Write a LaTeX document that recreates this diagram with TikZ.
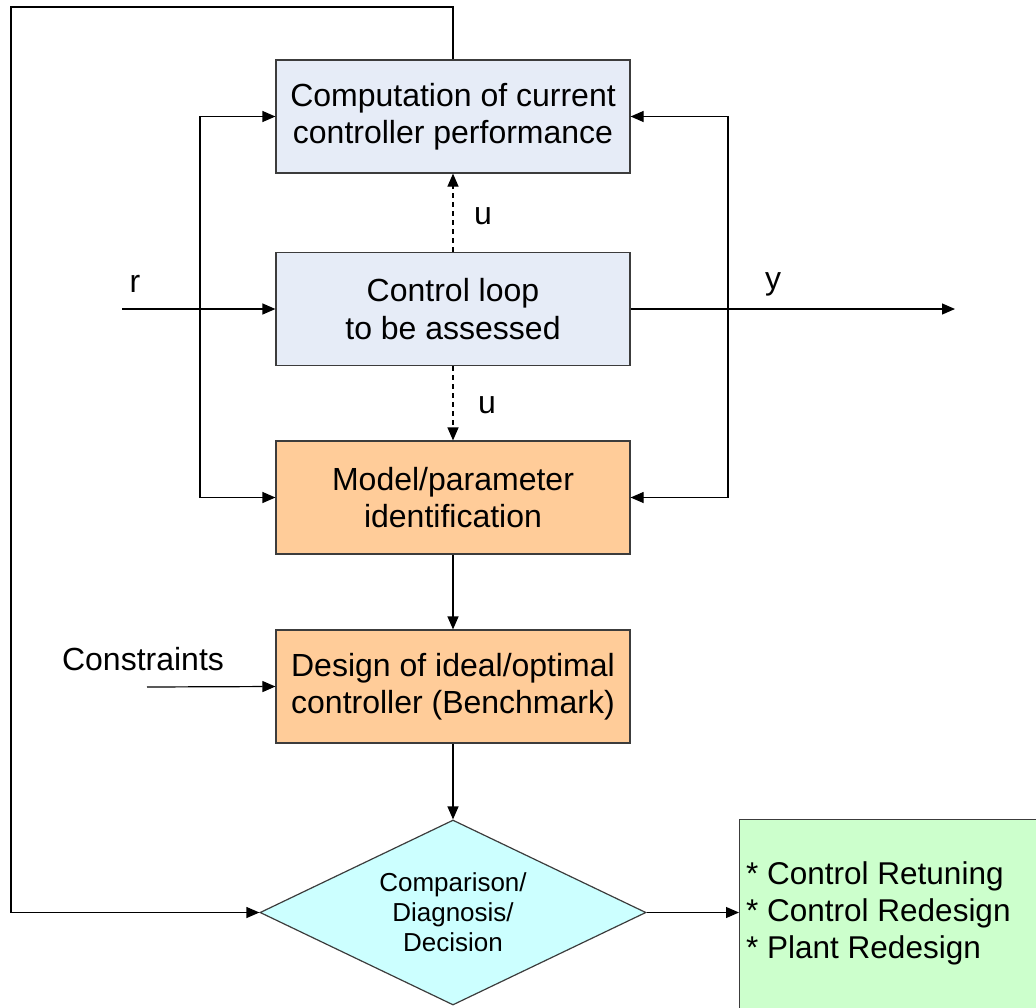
\documentclass[tikz,border=0pt]{standalone}
\usepackage{fontspec}
\setmainfont{Liberation Sans}
\usetikzlibrary{arrows.meta,shapes.geometric}
\definecolor{blueish}{HTML}{E6ECF7}
\definecolor{orangeish}{HTML}{FFCC99}
\definecolor{cyanish}{HTML}{CCFFFF}
\definecolor{greenish}{HTML}{CCFFCC}
\definecolor{edge}{HTML}{3C3C3C}
\begin{document}
\begin{tikzpicture}[x=1pt,y=-1pt,
  box/.style={draw=edge,line width=1.2pt,minimum width=354pt,minimum height=113pt,inner sep=0pt,align=center,font=\fontsize{32}{37.5}\selectfont},
  bluebox/.style={box,fill=blueish},
  orangebox/.style={box,fill=orangeish},
  decide/.style={diamond,draw=edge,line width=1.2pt,fill=cyanish,minimum width=386pt,minimum height=185pt,aspect=2.09,inner sep=0pt,align=center,font=\fontsize{26}{30}\selectfont},
  lbl/.style={font=\fontsize{32}{37}\selectfont,inner sep=0pt},
  arr/.style={line width=1.2pt,-{Triangle[length=13pt,width=11pt]}},
  dsh/.style={dash pattern=on 5pt off 4pt}
]
\useasboundingbox (0,0) rectangle (1036,1007);

\node[bluebox] (b1) at (453,116.5) {Computation of current\\controller performance};
\node[bluebox] (b2) at (453,309) {Control loop\\to be assessed};
\node[orangebox] (b3) at (453,497.5) {Model/parameter\\identification};
\node[orangebox] (b4) at (453,686.5) {Design of ideal/optimal\\controller (Benchmark)};
\node[decide] (dia) at (453,912.5) {Comparison/\\Diagnosis/\\Decision};
\node[draw=edge,line width=1.2pt,fill=greenish,anchor=north west,minimum width=360pt,minimum height=260pt] (act) at (739,819) {};
\node[lbl,anchor=west,align=left,font=\fontsize{31.5}{37}\selectfont] (acttext) at (746,913) {* Control Retuning\\* Control Redesign\\* Plant Redesign};

\node[lbl] (rl) at (135,284) {r};
\node[lbl] (yl) at (773,284) {y};
\node[lbl] (u1) at (483,216) {u};
\node[lbl] (u2) at (487,405) {u};
\node[lbl] (cl) at (143,659) {Constraints};

\coordinate (rin) at (122,309);
\coordinate (jr) at (200,309);
\coordinate (yout) at (955,309);
\coordinate (jy) at (728,309);
\coordinate (cin) at (147,687);
\coordinate (fb1) at (453,7);
\coordinate (fb2) at (11,7);

\draw[arr] (rin) -- (b2.west);
\draw[arr] (b2.east) -- (yout);
\draw[arr] (jr) |- (b1.west);
\draw[arr] (jr) |- (b3.west);
\draw[arr] (jy) |- (b1.east);
\draw[arr] (jy) |- (b3.east);
\draw[arr,dsh] (b2.north) -- (b1.south);
\draw[arr,dsh] (b2.south) -- (b3.north);
\draw[arr] (b3.south) -- (b4.north);
\draw[arr] (cin) -- (b4.west);
\draw[arr] (b4.south) -- (dia.north);
\draw[arr] (b1.north) -- (fb1) -- (fb2) |- (dia.west);
\draw[arr] (dia.east) -- (act.west |- dia.east);
\end{tikzpicture}
\end{document}
